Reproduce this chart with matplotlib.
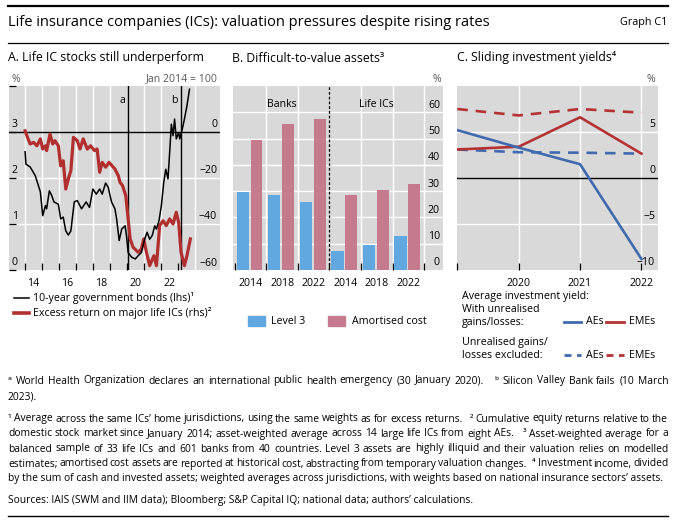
import re
import matplotlib
matplotlib.use('Agg')
import matplotlib.pyplot as plt
import matplotlib.transforms as mtrans
from matplotlib.patches import Rectangle
from matplotlib.lines import Line2D
from matplotlib.font_manager import FontProperties
from matplotlib.textpath import text_to_path

plt.rcParams['font.family'] = ['Open Sans', 'DejaVu Sans']
plt.rcParams['axes.unicode_minus'] = True

# ---------------- data ----------------
# Panel A: 10-year government bond yields (lhs, %) and excess return (rhs, Jan 2014 = 100 -> 0)
bond_dates = [2014.0, 2014.05, 2014.3, 2014.6, 2014.9, 2015.04, 2015.2, 2015.27, 2015.43, 2015.57,
              2015.7, 2015.96, 2016.1, 2016.25, 2016.4, 2016.55, 2016.7, 2016.9, 2017.08, 2017.33,
              2017.6, 2017.8, 2018.0, 2018.2, 2018.4, 2018.55, 2018.75, 2018.9, 2019.1, 2019.3,
              2019.4, 2019.55, 2019.7, 2019.9, 2019.98, 2020.08, 2020.28, 2020.5, 2020.67, 2020.86,
              2021.05, 2021.2, 2021.35, 2021.5, 2021.65, 2021.75, 2021.9, 2022.04, 2022.18, 2022.3,
              2022.43, 2022.53, 2022.63, 2022.73, 2022.82, 2022.92, 2023.06, 2023.12, 2023.28, 2023.4,
              2023.55, 2023.7]
bond_yield = [2.57, 2.30, 2.24, 2.05, 1.70, 1.18, 1.40, 1.33, 1.72, 1.62,
              1.48, 1.43, 1.11, 1.15, 0.85, 0.76, 0.85, 1.48, 1.51, 1.33,
              1.48, 1.36, 1.76, 1.65, 1.76, 1.65, 1.89, 1.80, 1.48, 1.33,
              1.11, 0.64, 0.89, 0.96, 0.75, 0.38, 0.28, 0.24, 0.31, 0.38,
              0.67, 0.82, 0.67, 0.75, 0.96, 0.89, 1.07, 1.40, 1.90, 2.19,
              1.98, 2.56, 3.17, 2.92, 3.28, 2.85, 2.99, 2.85, 3.07, 3.28,
              3.57, 3.93]
excess_dates = [2014.0, 2014.14, 2014.3, 2014.5, 2014.7, 2014.9, 2015.04, 2015.2, 2015.27, 2015.47,
                2015.63, 2015.76, 2015.96, 2016.1, 2016.25, 2016.4, 2016.55, 2016.7, 2016.85, 2017.08,
                2017.24, 2017.43, 2017.67, 2017.86, 2018.1, 2018.25, 2018.4, 2018.55, 2018.75, 2018.95,
                2019.3, 2019.5, 2019.6, 2019.75, 2019.94, 2020.08, 2020.2, 2020.37, 2020.67, 2020.86,
                2021.0, 2021.16, 2021.35, 2021.6, 2021.75, 2021.94, 2022.14, 2022.33, 2022.53, 2022.73,
                2022.92, 2023.06, 2023.2, 2023.4, 2023.55, 2023.75]
excess_ret = [0.5, -2.3, -5.2, -4.5, -6.0, -3.0, -7.4, -6.0, -8.1, -0.9,
              -5.2, -3.8, -6.0, -14.7, -12.5, -24.8, -20.4, -16.8, -2.3, -3.8,
              -7.4, -3.0, -7.4, -6.0, -8.1, -7.4, -17.5, -13.2, -15.3, -13.2,
              -16.1, -19.0, -21.9, -23.3, -27.7, -37.8, -46.5, -50.1, -52.3, -50.9,
              -46.5, -52.3, -58.1, -53.8, -58.1, -40.7, -38.6, -40.7, -37.8, -40.0,
              -34.9, -39.3, -52.3, -58.1, -53.8, -46.5]
event_dates = [2020.08, 2023.19]
event_labels = ['a', 'b']
a_tick_years = [2014, 2015, 2016, 2017, 2018, 2019, 2020, 2021, 2022, 2023]
a_grid_years = [2014, 2015, 2016, 2017, 2018, 2019, 2021, 2022, 2024]
a_xlabels = ['14', '16', '18', '20', '22']
a_xlabel_years = [2014, 2016, 2018, 2020, 2022]
a_lhs_ticks = [0, 1, 2, 3]
a_rhs_ticks = [-60, -40, -20, 0]

# Panel B: difficult-to-value assets, % of total
b_groups = ['Banks', 'Life ICs']
b_years = ['2014', '2018', '2022']
level3_banks = [29.6, 28.7, 26.0]
amort_banks = [49.4, 55.7, 57.6]
level3_life = [7.1, 9.4, 12.8]
amort_life = [28.4, 30.3, 32.6]
b_yticks = [0, 10, 20, 30, 40, 50, 60]

# Panel C: average investment yields, %
c_years = [2019, 2020, 2021, 2022]
ae_with = [5.2, 3.3, 1.5, -8.8]
eme_with = [3.1, 3.4, 6.6, 2.65]
ae_excl = [3.1, 2.8, 2.75, 2.65]
eme_excl = [7.5, 6.8, 7.5, 7.1]
c_yticks = [-10, -5, 0, 5]
c_xlabels = ['2020', '2021', '2022']

# ---------------- styles ----------------
GRAY = '#d9d9d9'
UNIT = '#595959'
BLACK = '#000000'
RED_A = '#b22f2f'
BLUE_B = '#62a8e0'
PINK_B = '#c57b8d'
BLUE_C = '#4169ae'
RED_C = '#b43234'
TICK_FS = 7.6
LEG_FS = 7.7
FAMILY = ['Open Sans', 'DejaVu Sans']

W, H = 676, 525
fig = plt.figure(figsize=(W / 100, H / 100), dpi=100)


def fx(x):
    return x / W


def fy(y):
    return 1 - y / H


def ftext(x, y, s, **kw):
    kw.setdefault('va', 'center')
    return fig.text(fx(x), fy(y), s, **kw)


def hrule(y, x0=8, x1=668, lw=1.0):
    fig.add_artist(Line2D([fx(x0), fx(x1)], [fy(y), fy(y)], color=BLACK, lw=lw,
                          transform=fig.transFigure))


def add_ax(l, t, r, b):
    ax = fig.add_axes([fx(l), fy(b), (r - l) / W, (b - t) / H])
    ax.set_facecolor(GRAY)
    for s in ax.spines.values():
        s.set_visible(False)
    ax.tick_params(labelleft=False, labelright=False, labelbottom=False, left=False,
                   right=False, top=False, bottom=True, direction='in', length=5,
                   width=0.9, color=BLACK)
    return ax


def ylab(ax, v, s, side, dy=7, fs=TICK_FS):
    tr = mtrans.blended_transform_factory(ax.transAxes, ax.transData)
    if side == 'left':
        tr = mtrans.offset_copy(tr, fig=fig, x=3 * 0.72, y=dy * 0.72, units='points')
        ax.text(0, v, s, transform=tr, ha='left', va='center', fontsize=fs)
    else:
        tr = mtrans.offset_copy(tr, fig=fig, x=-3 * 0.72, y=dy * 0.72, units='points')
        ax.text(1, v, s, transform=tr, ha='right', va='center', fontsize=fs)


def xlab(ax, v, s, dy=-13, fs=TICK_FS):
    tr = mtrans.blended_transform_factory(ax.transData, ax.transAxes)
    tr = mtrans.offset_copy(tr, fig=fig, x=0, y=dy * 0.72, units='points')
    ax.text(v, 0, s, transform=tr, ha='center', va='center', fontsize=fs)


def fmt(v):
    return str(v).replace('-', '\u2212')


# ---------------- header ----------------
hrule(6, lw=1.6)
ftext(8, 23, 'Life insurance companies (ICs): valuation pressures despite rising rates',
      fontsize=10.5, ha='left')
ftext(668, 23, 'Graph C1', fontsize=7.8, ha='right')
hrule(43, lw=0.9)

ftext(8, 58, 'A. Life IC stocks still underperform', fontsize=8.8, ha='left')
ftext(232, 58, 'B. Difficult-to-value assets\u00b3', fontsize=8.8, ha='left')
ftext(457, 58, 'C. Sliding investment yields\u2074', fontsize=8.8, ha='left')

# ---------------- panel A ----------------
axA = add_ax(9, 86, 220, 270)
axA.set_xlim(2013.05, 2025.5)
axA.set_ylim(-60, 20)
for yr in a_grid_years:
    axA.axvline(yr, color='white', lw=1.0, zorder=1)
for v in [-40, -20]:
    axA.axhline(v, color='white', lw=1.0, zorder=1)
axA.axhline(0, color=BLACK, lw=1.0, zorder=2)
for d, lab in zip(event_dates, event_labels):
    axA.axvline(d, color=BLACK, lw=1.0, zorder=2)
    tr = mtrans.offset_copy(mtrans.blended_transform_factory(axA.transData, axA.transAxes),
                            fig=fig, x=-6 * 0.72, y=-15 * 0.72, units='points')
    axA.text(d, 1, lab, transform=tr, ha='center', va='center', fontsize=TICK_FS)
axA.plot(excess_dates, excess_ret, color=RED_A, lw=2.3, zorder=3, solid_joinstyle='round')
axA.set_xticks(a_tick_years)
for v in a_rhs_ticks:
    ylab(axA, v, fmt(v), 'right')
for yr, s in zip(a_xlabel_years, a_xlabels):
    xlab(axA, yr + 0.5, s)

axA2 = axA.twinx()
axA2.patch.set_visible(False)
for s in axA2.spines.values():
    s.set_visible(False)
axA2.tick_params(labelleft=False, labelright=False, right=False, left=False)
axA2.set_ylim(0, 4)
axA2.plot(bond_dates, bond_yield, color=BLACK, lw=1.1, zorder=4)
for v in a_lhs_ticks:
    ylab(axA2, v, str(v), 'left')
ftext(12, 79, '%', fontsize=TICK_FS, ha='left', color=UNIT)
ftext(218, 79, 'Jan 2014 = 100', fontsize=TICK_FS, ha='right', color=UNIT)

# ---------------- panel B ----------------
axB = add_ax(233, 86, 443, 270)
axB.set_xlim(-0.06, 6.6)
axB.set_ylim(0, 70)
for v in b_yticks[1:]:
    axB.axhline(v, color='white', lw=1.0, zorder=1)
for g in [1, 2, 4, 5, 6]:
    axB.axvline(g, color='white', lw=1.0, zorder=1)
axB.axvline(3, color=BLACK, lw=0.9, ls=(0, (2.2, 1.6)), zorder=2)
level3 = level3_banks + level3_life
amort = amort_banks + amort_life
pos = list(range(len(level3)))
axB.bar([p + 0.25 for p in pos], level3, width=0.39, color=BLUE_B, zorder=3)
axB.bar([p + 0.69 for p in pos], amort, width=0.37, color=PINK_B, zorder=3)
axB.set_xticks(list(range(7)))
for p, s in zip(pos, b_years * 2):
    xlab(axB, p + 0.5, s)
for v in b_yticks:
    ylab(axB, v, str(v), 'right')
trg = mtrans.blended_transform_factory(axB.transData, axB.transAxes)
axB.text(1.5, 0.9, b_groups[0], transform=trg, ha='center', va='center', fontsize=TICK_FS)
axB.text(4.5, 0.9, b_groups[1], transform=trg, ha='center', va='center', fontsize=TICK_FS)
ftext(441, 79, '%', fontsize=TICK_FS, ha='right', color=UNIT)

# ---------------- panel C ----------------
axC = add_ax(457, 86, 658, 270)
axC.set_xlim(2018.995, 2022.27)
axC.set_ylim(-10, 10)
for yr in [2020, 2021, 2022]:
    axC.axvline(yr, color='white', lw=1.0, zorder=1)
for v in [-5, 5]:
    axC.axhline(v, color='white', lw=1.0, zorder=1)
axC.axhline(0, color=BLACK, lw=1.0, zorder=2)
dash = (0, (4.0, 3.0))
axC.plot(c_years, eme_excl, color=RED_C, lw=1.9, ls=dash, zorder=3)
axC.plot(c_years, ae_excl, color=BLUE_C, lw=1.9, ls=dash, zorder=3)
axC.plot(c_years, eme_with, color=RED_C, lw=1.9, zorder=4)
axC.plot(c_years, ae_with, color=BLUE_C, lw=1.9, zorder=4)
axC.set_xticks(c_years)
for yr, s in zip(c_years[1:], c_xlabels):
    xlab(axC, yr, s)
for v in c_yticks:
    ylab(axC, v, fmt(v), 'right')
ftext(655, 79, '%', fontsize=TICK_FS, ha='right', color=UNIT)

# ---------------- legends ----------------
fig.add_artist(Line2D([fx(14), fx(29)], [fy(298), fy(298)], color=BLACK, lw=1.1))
ftext(33, 298, '10-year government bonds (lhs)\u00b9', fontsize=LEG_FS, ha='left')
fig.add_artist(Line2D([fx(14), fx(29)], [fy(313), fy(313)], color=RED_A, lw=2.6))
ftext(33, 313, 'Excess return on major life ICs (rhs)\u00b2', fontsize=LEG_FS, ha='left')

fig.add_artist(Rectangle((fx(248), fy(326)), 17 / W, 10 / H, color=BLUE_B,
                         transform=fig.transFigure))
ftext(271, 321, 'Level 3', fontsize=LEG_FS, ha='left')
fig.add_artist(Rectangle((fx(328), fy(326)), 17 / W, 10 / H, color=PINK_B,
                         transform=fig.transFigure))
ftext(352, 321, 'Amortised cost', fontsize=LEG_FS, ha='left')

ftext(462, 296, 'Average investment yield:', fontsize=LEG_FS, ha='left')
ftext(462, 310, 'With unrealised', fontsize=LEG_FS, ha='left')
ftext(462, 322, 'gains/losses:', fontsize=LEG_FS, ha='left')
ftext(462, 343, 'Unrealised gains/', fontsize=LEG_FS, ha='left')
ftext(462, 355, 'losses excluded:', fontsize=LEG_FS, ha='left')
for yy, ls in [(322, '-'), (355, (0, (2.5, 2.0)))]:
    fig.add_artist(Line2D([fx(564), fx(581)], [fy(yy), fy(yy)], color=BLUE_C, lw=2.0, ls=ls))
    ftext(586, yy, 'AEs', fontsize=LEG_FS, ha='left')
    fig.add_artist(Line2D([fx(606), fx(624)], [fy(yy), fy(yy)], color=RED_C, lw=2.0, ls=ls))
    ftext(629, yy, 'EMEs', fontsize=LEG_FS, ha='left')

# ---------------- footnotes ----------------
FN_FS = 7.4
fn_prop = FontProperties(family=FAMILY, size=FN_FS)


def text_px(s):
    w, h, d = text_to_path.get_text_width_height_descent(s, fn_prop, ismath=False)
    return w * 100.0 / 72.0


def jline(y, s, just=True, x0=8, x1=668):
    if not just:
        ftext(x0, y, s, fontsize=FN_FS, ha='left')
        return
    parts = re.split(r'( +)', s)
    toks = parts[0::2]
    gaps = [len(g) for g in parts[1::2]]
    widths = [text_px(tk) for tk in toks]
    free = (x1 - x0) - sum(widths)
    unit = free / max(sum(gaps), 1)
    x = x0
    for i, tk in enumerate(toks):
        ftext(x, y, tk, fontsize=FN_FS, ha='left')
        x += widths[i]
        if i < len(gaps):
            x += unit * gaps[i]


fn_lines = [
    ('\u1d43 World Health Organization declares an international public health emergency (30 January 2020).   \u1d47 Silicon Valley Bank fails (10 March', True),
    ('2023).', False),
    ('\u00b9 Average across the same ICs\u2019 home jurisdictions, using the same weights as for excess returns.   \u00b2 Cumulative equity returns relative to the', True),
    ('domestic stock market since January 2014; asset-weighted average across 14 large life ICs from eight AEs.   \u00b3 Asset-weighted average for a', True),
    ('balanced sample of 33 life ICs and 601 banks from 40 countries. Level 3 assets are highly illiquid and their valuation relies on modelled', True),
    ('estimates; amortised cost assets are reported at historical cost, abstracting from temporary valuation changes.   \u2074 Investment income, divided', True),
    ('by the sum of cash and invested assets; weighted averages across jurisdictions, with weights based on national insurance sectors\u2019 assets.', False),
    ('Sources: IAIS (SWM and IIM data); Bloomberg; S&P Capital IQ; national data; authors\u2019 calculations.', False),
]
fn_y = [381, 397, 419, 434, 449, 464, 479, 501]
for (s, j), yy in zip(fn_lines, fn_y):
    jline(yy, s, j)
hrule(516, lw=1.0)

fig.savefig('out.png', dpi=100)
